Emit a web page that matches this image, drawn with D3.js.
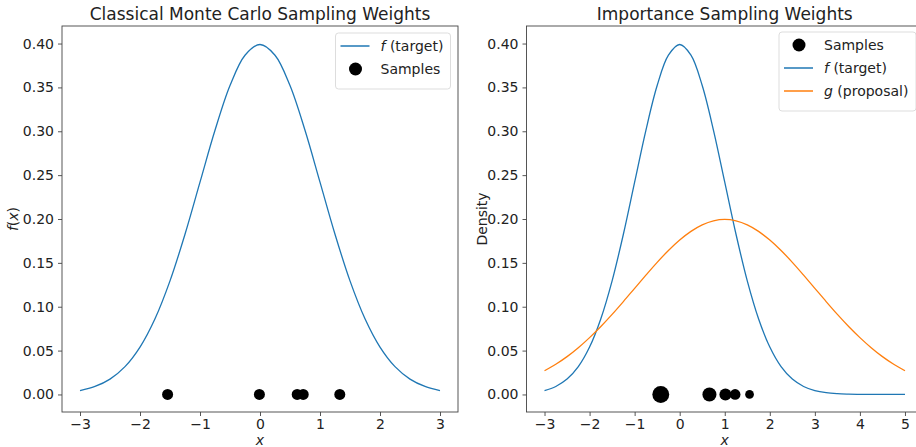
<!DOCTYPE html>
<html>
<head>
<meta charset="utf-8">
<script src="https://cdn.jsdelivr.net/npm/d3@7"></script>
<style>
  html, body { margin: 0; padding: 0; background: #fff; }
  svg { display: block; font-family: "DejaVu Sans", sans-serif; }
</style>
</head>
<body>
<svg id="chart" width="916" height="447"></svg>
<script>
// Grid of x values (step 0.25) for the density curves
const xLeft = d3.range(-12, 13).map(i => i * 0.25);            // -3 .. 3
const xRight = d3.range(-12, 21).map(i => i * 0.25);           // -3 .. 5

// Target density f (standard normal), tabulated on -3..5
const fTarget = [
  0.0044, 0.0091, 0.0175, 0.0317, 0.0540, 0.0863, 0.1295, 0.1826,
  0.2420, 0.3011, 0.3521, 0.3867, 0.3989, 0.3867, 0.3521, 0.3011,
  0.2420, 0.1826, 0.1295, 0.0863, 0.0540, 0.0317, 0.0175, 0.0091,
  0.0044, 0.0020, 0.0009, 0.0004, 0.0001, 0.0000, 0.0000, 0.0000, 0.0000
];

// Proposal density g (normal, mean 1, sd 2), tabulated on -3..5
const gProposal = [
  0.0270, 0.0344, 0.0431, 0.0533, 0.0648, 0.0775, 0.0913, 0.1059,
  0.1210, 0.1360, 0.1506, 0.1641, 0.1760, 0.1859, 0.1933, 0.1979,
  0.1995, 0.1979, 0.1933, 0.1859, 0.1760, 0.1641, 0.1506, 0.1360,
  0.1210, 0.1059, 0.0913, 0.0775, 0.0648, 0.0533, 0.0431, 0.0344, 0.0270
];

// Samples drawn from f (classical Monte Carlo, equal weight)
const mcSamples = [-1.54, -0.01, 0.62, 0.72, 1.33];

// Samples drawn from g with importance weights f/g
const isSamples = [-0.42, 0.66, 1.015, 1.23, 1.55];
const isWeights = [2.36, 1.63, 1.20, 0.94, 0.63];

// Tick labels
const yTicks = [0.00, 0.05, 0.10, 0.15, 0.20, 0.25, 0.30, 0.35, 0.40];
const xTicksLeft = [-3, -2, -1, 0, 1, 2, 3];
const xTicksRight = [-3, -2, -1, 0, 1, 2, 3, 4, 5];

const blue = "#1f77b4", orange = "#ff7f0e";
const svg = d3.select("#chart");
const fmtY = d3.format(".2f");
const fmtX = v => (v < 0 ? "\u2212" + Math.abs(v) : String(v));

// marker radius grows with the square root of the weight (area ~ weight)
const rScale = d3.scaleSqrt().domain([0, 1]).range([0, 5.5]);

function panel(opts) {
  const { left, right, top, bottom, xDomain, xTicks } = opts;
  const x = d3.scaleLinear().domain(xDomain).range([left, right]);
  const y = d3.scaleLinear().domain([-0.02, 0.42]).range([bottom, top]);
  const g = svg.append("g");

  // curves
  const line = d3.line().x(d => x(d[0])).y(d => y(d[1])).curve(d3.curveCatmullRom);
  opts.curves.forEach(c => {
    g.append("path")
      .datum(c.xs.map((v, i) => [v, c.ys[i]]))
      .attr("d", line)
      .attr("fill", "none")
      .attr("stroke", c.color)
      .attr("stroke-width", 1.3);
  });

  // samples
  g.selectAll("circle.s").data(opts.samples).join("circle")
    .attr("class", "s")
    .attr("cx", d => x(d.x))
    .attr("cy", y(0))
    .attr("r", d => rScale(d.w))
    .attr("fill", "#000");

  // frame
  g.append("rect")
    .attr("x", left).attr("y", top)
    .attr("width", right - left).attr("height", bottom - top)
    .attr("fill", "none").attr("stroke", "#444").attr("stroke-width", 0.9);

  // axes
  const xAxis = d3.axisBottom(x).tickValues(xTicks).tickFormat(fmtX).tickSize(4).tickPadding(3);
  const gx = g.append("g").attr("transform", `translate(0,${bottom})`).call(xAxis);
  const yAxis = d3.axisLeft(y).tickValues(yTicks).tickFormat(fmtY).tickSize(4).tickPadding(4);
  const gy = g.append("g").attr("transform", `translate(${left},0)`).call(yAxis);
  [gx, gy].forEach(a => {
    a.select(".domain").remove();
    a.selectAll("line").attr("stroke", "#444").attr("stroke-width", 0.9);
    a.selectAll("text").attr("font-size", 14).attr("fill", "#222")
      .attr("font-family", "DejaVu Sans, sans-serif");
  });

  // title
  g.append("text")
    .attr("x", (left + opts.titleRight) / 2).attr("y", top - 6)
    .attr("text-anchor", "middle").attr("font-size", 17).attr("fill", "#222")
    .text(opts.title);

  // x label
  g.append("text")
    .attr("x", (left + opts.titleRight) / 2).attr("y", bottom + 32.5)
    .attr("text-anchor", "middle").attr("font-size", 14).attr("fill", "#222")
    .attr("font-style", "italic").text("x");

  // y label
  const yl = g.append("text")
    .attr("transform", `translate(${opts.ylabelX},${(top + bottom) / 2}) rotate(-90)`)
    .attr("text-anchor", "middle").attr("font-size", 14).attr("fill", "#222");
  opts.ylabel(yl);

  return { x, y, g };
}

// Left: classical Monte Carlo
const L = panel({
  left: 62, right: 458, top: 26, bottom: 412, titleRight: 458,
  xDomain: [-3.3, 3.3], xTicks: xTicksLeft,
  title: "Classical Monte Carlo Sampling Weights",
  curves: [{ xs: xLeft, ys: fTarget.slice(0, xLeft.length), color: blue }],
  samples: mcSamples.map(v => ({ x: v, w: 1 })),
  ylabelX: 18,
  ylabel: t => {
    t.append("tspan").attr("font-style", "italic").text("f");
    t.append("tspan").text("(");
    t.append("tspan").attr("font-style", "italic").text("x");
    t.append("tspan").text(")");
  }
});

// Right: importance sampling
const R = panel({
  left: 526.5, right: 923, top: 26, bottom: 412, titleRight: 923,
  xDomain: [-3.4, 5.4], xTicks: xTicksRight,
  title: "Importance Sampling Weights",
  curves: [
    { xs: xRight, ys: fTarget, color: blue },
    { xs: xRight, ys: gProposal, color: orange }
  ],
  samples: isSamples.map((v, i) => ({ x: v, w: isWeights[i] })),
  ylabelX: 487,
  ylabel: t => t.text("Density")
});

// Legends
function legend(x0, y0, w, items) {
  const g = svg.append("g");
  const h = items.length * 23 + 10;
  g.append("rect").attr("x", x0).attr("y", y0).attr("width", w).attr("height", h)
    .attr("rx", 3).attr("fill", "#fff").attr("fill-opacity", 0.85)
    .attr("stroke", "#ddd").attr("stroke-width", 1);
  items.forEach((it, i) => {
    const cy = y0 + 13 + i * 23;
    if (it.type === "line") {
      g.append("line").attr("x1", x0 + 5).attr("x2", x0 + 34).attr("y1", cy).attr("y2", cy)
        .attr("stroke", it.color).attr("stroke-width", 1.5);
    } else {
      g.append("circle").attr("cx", x0 + 20).attr("cy", cy).attr("r", 6.5).attr("fill", "#000");
    }
    const t = g.append("text").attr("x", x0 + 45).attr("y", cy + 5)
      .attr("font-size", 14).attr("fill", "#222");
    it.label(t);
  });
}

legend(335.5, 33, 115, [
  { type: "line", color: blue, label: t => { t.append("tspan").attr("font-style", "italic").text("f"); t.append("tspan").text(" (target)"); } },
  { type: "dot", label: t => t.text("Samples") }
]);

legend(779, 32, 137, [
  { type: "dot", label: t => t.text("Samples") },
  { type: "line", color: blue, label: t => { t.append("tspan").attr("font-style", "italic").text("f"); t.append("tspan").text(" (target)"); } },
  { type: "line", color: orange, label: t => { t.append("tspan").attr("font-style", "italic").text("g"); t.append("tspan").text(" (proposal)"); } }
]);
</script>
</body>
</html>
